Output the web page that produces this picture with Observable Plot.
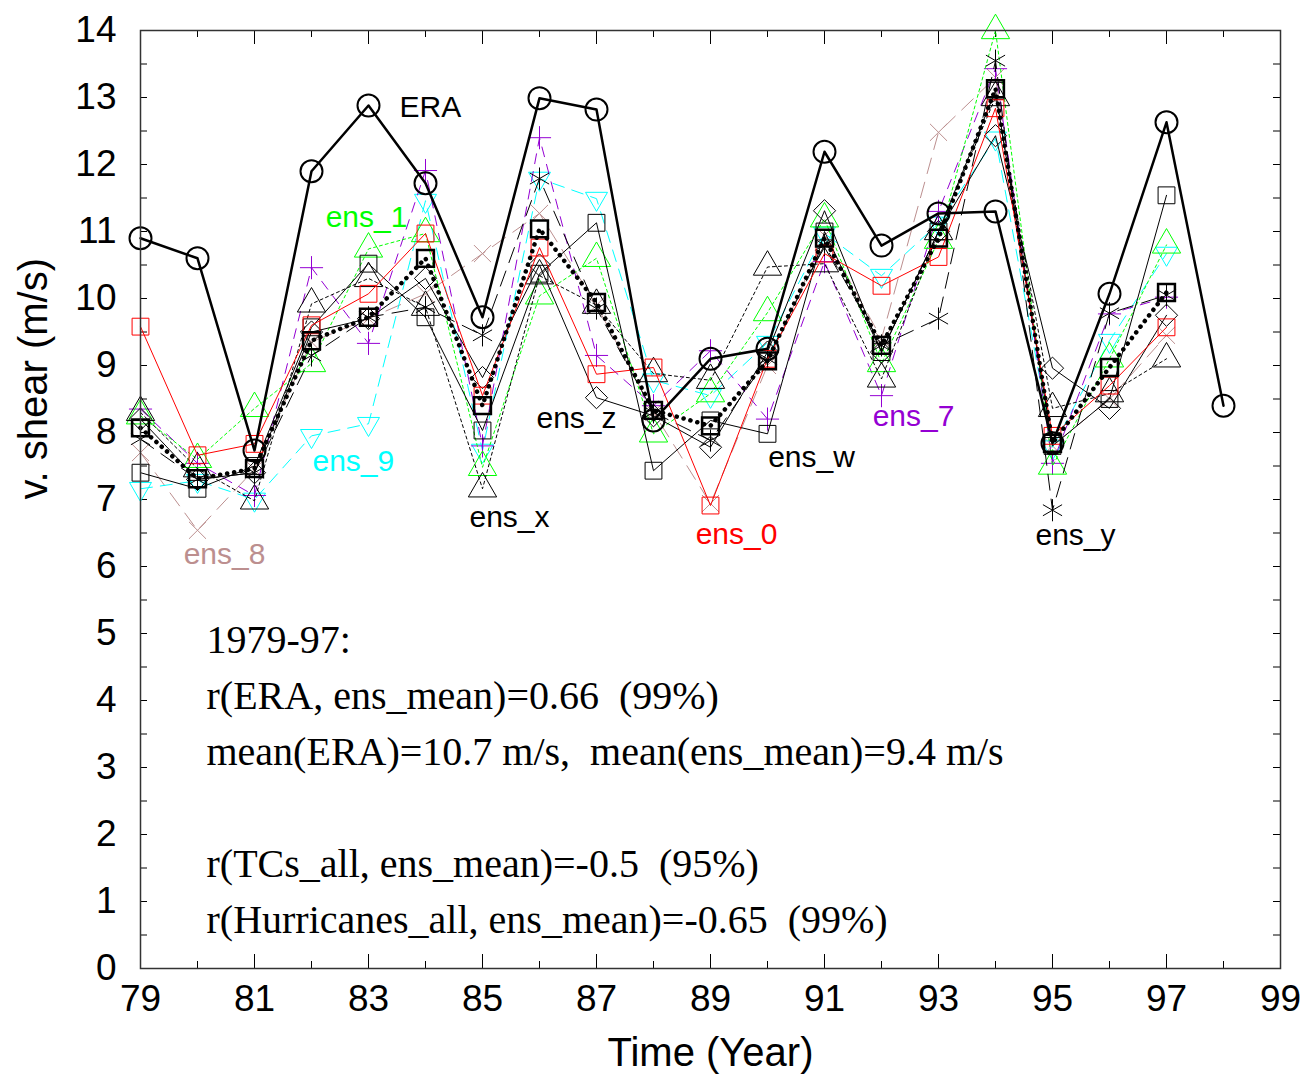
<!DOCTYPE html>
<html>
<head>
<meta charset="utf-8">
<script src="https://cdn.jsdelivr.net/npm/d3@7"></script>
<script src="https://cdn.jsdelivr.net/npm/@observablehq/plot@0.6"></script>
<style>
  html, body { margin: 0; padding: 0; background: #fff; }
  svg text { white-space: pre; }
</style>
</head>
<body>
<div id="chart"></div>
<script>
// ---- data ----
const years = [79,80,81,82,83,84,85,86,87,88,89,90,91,92,93,94,95,96,97];
const eraYears = [79,80,81,82,83,84,85,86,87,88,89,90,91,92,93,94,95,96,97,98];
const ERA      = [10.9,10.6,7.73,11.9,12.88,11.72,9.72,12.99,12.82,8.18,9.1,9.25,12.19,10.79,11.27,11.3,7.84,10.07,12.63,8.4];
const ens_mean = [8.07,7.31,7.46,9.37,9.72,10.6,8.4,11.04,9.94,8.33,8.1,9.07,10.9,9.3,10.9,13.13,7.84,8.97,10.09];
const ens_0    = [9.58,7.66,7.83,9.6,10.07,10.97,8.55,10.76,8.87,8.97,6.91,9.1,10.67,10.19,10.62,12.84,7.95,8.7,9.57];
const ens_1    = [8.25,7.6,8.36,9.03,10.74,10.97,7.48,10.04,10.6,7.98,8.58,9.79,11.19,9.03,10.87,14.0,7.5,9.1,10.8];
const ens_7    = [8.35,7.54,7.06,10.46,9.33,11.91,7.8,12.4,9.15,8.4,9.22,8.2,10.55,8.55,11.3,13.43,7.54,9.77,10.02];
const ens_8    = [7.7,6.54,7.45,9.35,9.7,10.07,10.67,11.27,9.9,8.3,6.94,9.0,10.94,9.4,12.48,13.3,7.8,8.5,9.45];
const ens_9    = [7.16,7.28,7.0,7.95,8.13,11.46,7.73,11.79,11.49,8.78,8.55,9.34,10.97,10.34,11.12,12.39,7.78,9.37,10.67];
const ens_x    = [8.3,7.46,6.98,9.92,10.3,9.87,7.16,10.34,9.9,8.88,8.78,10.47,10.52,8.8,11.0,13.0,8.36,8.58,9.1];
const ens_y    = [7.9,7.3,7.4,9.15,9.72,9.87,9.45,11.79,9.85,8.3,7.88,9.1,10.8,9.3,9.7,13.55,6.84,9.78,10.05];
const ens_z    = [8.2,7.3,7.4,9.5,9.7,10.3,8.82,10.5,8.52,8.25,7.78,9.2,11.31,9.2,11.0,12.43,8.96,8.36,9.75];
const ens_w    = [7.4,7.16,7.5,9.57,10.52,9.72,8.03,10.37,11.13,7.43,8.18,7.98,11.0,9.2,11.0,13.1,7.8,8.5,11.54];

const xTickLabels = [79,81,83,85,87,89,91,93,95,97,99];
const xMinorTicks = [80,82,84,86,88,90,92,94,96,98];
const yTickLabels = [0,1,2,3,4,5,6,7,8,9,10,11,12,13,14];
const yMinorTicks = [0.5,1.5,2.5,3.5,4.5,5.5,6.5,7.5,8.5,9.5,10.5,11.5,12.5,13.5];

const annotation = "1979-97:\nr(ERA, ens_mean)=0.66  (99%)\nmean(ERA)=10.7 m/s,  mean(ens_mean)=9.4 m/s\n\nr(TCs_all, ens_mean)=-0.5  (95%)\nr(Hurricanes_all, ens_mean)=-0.65  (99%)";

// ---- layout ----
const W = 1305, H = 1074, mL = 140, mR = 25, mT = 30, mB = 106;
const pw = W - mL - mR, ph = H - mT - mB;
const SANS = "Liberation Sans, Arial, Helvetica, sans-serif";
const SERIF = "Liberation Serif, Times New Roman, serif";

const triDown = {
  draw(ctx, size) {
    const s = Math.sqrt(size) * 0.6824, t = s / 2, u = s * Math.sqrt(3) / 2;
    ctx.moveTo(0, s); ctx.lineTo(-u, -t); ctx.lineTo(u, -t); ctx.closePath();
  }
};

const rows = (xs, vals) => xs.map((x, i) => ({x, y: vals[i]}));

// series definitions: values, style, label
const series = [
  {name: "ens_8", vals: ens_8, color: "#bc8f8f", dash: "16,9", sym: "times", r: 7.8, label: {at: 80, dx: 27, dy: 24}},
  {name: "ens_9", vals: ens_9, color: "#00ffff", dash: "12,8", sym: triDown, r: 10.5, label: {at: 82, dx: 1, dy: 26, anchor: "start"}},
  {name: "ens_7", vals: ens_7, color: "#9400d3", dash: "10,8", sym: "plus", r: 7.5, label: {at: 92, dx: 32, dy: 21}},
  {name: "ens_1", vals: ens_1, color: "#00ff00", dash: "3,3", sym: "triangle", r: 10.5, label: {at: 83, dx: -2, dy: -32}},
  {name: "ens_x", vals: ens_x, color: "#000", dash: "3,3", sym: "triangle", r: 10.5, label: {at: 85, dx: 27, dy: 29}},
  {name: "ens_y", vals: ens_y, color: "#000", dash: "16,9", sym: "asterisk", r: 10.5, label: {at: 95, dx: 23, dy: 25}},
  {name: "ens_z", vals: ens_z, color: "#000", dash: null, sym: "diamond2", r: 10, label: {at: 87, dx: -20, dy: 21}},
  {name: "ens_w", vals: ens_w, color: "#000", dash: null, sym: "square", r: 9.5, label: {at: 90, dx: 44, dy: 24}},
  {name: "ens_0", vals: ens_0, color: "#ff0000", dash: null, sym: "square", r: 9.5, label: {at: 89, dx: 26, dy: 29}}
];

const marks = [];

// inward ticks
marks.push(
  Plot.tickX(xTickLabels, {x: d => d, insetTop: ph - 14, stroke: "#000", strokeWidth: 1}),
  Plot.tickX(xMinorTicks, {x: d => d, insetTop: ph - 7, stroke: "#000", strokeWidth: 1}),
  Plot.tickX(xTickLabels, {x: d => d, insetBottom: ph - 14, stroke: "#000", strokeWidth: 1}),
  Plot.tickX(xMinorTicks, {x: d => d, insetBottom: ph - 7, stroke: "#000", strokeWidth: 1}),
  Plot.tickY(yTickLabels.concat(yMinorTicks), {y: d => d, insetRight: pw - 7, stroke: "#000", strokeWidth: 1}),
  Plot.tickY(yTickLabels.concat(yMinorTicks), {y: d => d, insetLeft: pw - 7, stroke: "#000", strokeWidth: 1})
);

for (const s of series) {
  const d = rows(years, s.vals);
  marks.push(Plot.line(d, {x: "x", y: "y", stroke: s.color, strokeWidth: 1, strokeDasharray: s.dash || undefined}));
  marks.push(Plot.dot(d, {x: "x", y: "y", symbol: s.sym, r: s.r, stroke: s.color, fill: "none", strokeWidth: 1}));
}

// ensemble mean
const meanRows = rows(years, ens_mean);
marks.push(Plot.line(meanRows, {x: "x", y: "y", stroke: "#000", strokeWidth: 4.5, strokeDasharray: "0.1,7", strokeLinecap: "round"}));
marks.push(Plot.dot(meanRows, {x: "x", y: "y", symbol: "square", r: 9.5, stroke: "#000", fill: "none", strokeWidth: 2.5}));

// ERA
const eraRows = rows(eraYears, ERA);
marks.push(Plot.line(eraRows, {x: "x", y: "y", stroke: "#000", strokeWidth: 2.5}));
marks.push(Plot.dot(eraRows, {x: "x", y: "y", symbol: "circle", r: 11, stroke: "#000", fill: "none", strokeWidth: 2}));

// series labels anchored to a data point
for (const s of series) {
  const i = years.indexOf(s.label.at);
  marks.push(Plot.text([{x: s.label.at, y: s.vals[i]}], {
    x: "x", y: "y", text: () => s.name, dx: s.label.dx, dy: s.label.dy,
    textAnchor: s.label.anchor || "middle", fill: s.color, fontSize: 30, fontFamily: SANS
  }));
}
marks.push(Plot.text([{x: 83, y: ERA[eraYears.indexOf(83)]}], {
  x: "x", y: "y", text: () => "ERA", dx: 31, dy: 2, textAnchor: "start", fill: "#000", fontSize: 30, fontFamily: SANS
}));

// statistics annotation
marks.push(Plot.text([annotation], {
  frameAnchor: "top-left", dx: 66, dy: 583, lineAnchor: "top", lineHeight: 1.4,
  textAnchor: "start", fontSize: 40, fontFamily: SERIF, fill: "#000"
}));

// axes
marks.push(Plot.axisX(xTickLabels, {tickSize: 0, tickPadding: 16, fontSize: 37, fontFamily: SANS, label: null, tickFormat: d => String(d)}));
marks.push(Plot.axisY(yTickLabels, {tickSize: 0, tickPadding: 24, fontSize: 37, fontFamily: SANS, label: null, tickFormat: d => String(d)}));
marks.push(Plot.text(["Time (Year)"], {frameAnchor: "bottom", dy: 97, fontSize: 40, fontFamily: SANS}));
marks.push(Plot.text(["v. shear (m/s)"], {frameAnchor: "left", dx: -106, rotate: -90, fontSize: 40, fontFamily: SANS}));
marks.push(Plot.frame({stroke: "#333", strokeWidth: 1.5}));

const chart = Plot.plot({
  width: W, height: H,
  marginLeft: mL, marginRight: mR, marginTop: mT, marginBottom: mB,
  x: {domain: [79, 99], axis: null},
  y: {domain: [0, 14], axis: null},
  style: {fontFamily: SANS, color: "#000", background: "#fff", overflow: "visible"},
  marks
});
document.getElementById("chart").appendChild(chart);
</script>
</body>
</html>
